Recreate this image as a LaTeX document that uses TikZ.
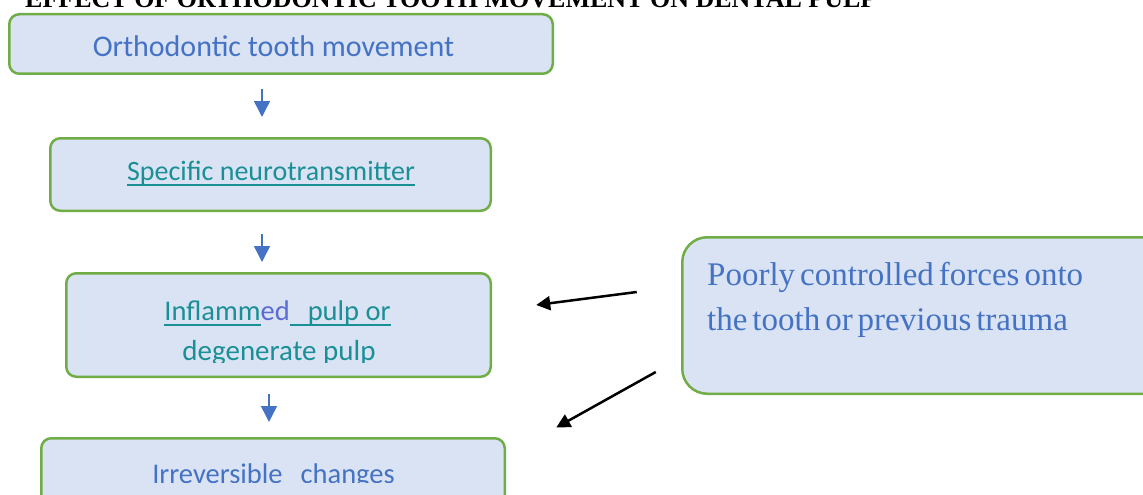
\documentclass[tikz,border=0pt]{standalone}
\usepackage{fontspec}
\setmainfont{Liberation Serif}
\newfontfamily\calfont{Carlito}
\newfontfamily\serfont[WordSpace=0.6]{Liberation Serif}
\usetikzlibrary{arrows.meta,calc}
\definecolor{boxfill}{HTML}{DAE3F3}
\definecolor{boxline}{HTML}{70AD47}
\definecolor{txtblue}{HTML}{4472C4}
\definecolor{tealtxt}{HTML}{1A8F96}
\definecolor{edblue}{HTML}{5B6BD5}
\newcommand\myul[1]{\setbox0\hbox{#1}\rlap{\rule[-6pt]{\wd0}{1.8pt}}\box0}
\begin{document}
\begin{tikzpicture}[x=1pt,y=-1pt,
  box/.style={draw=boxline,fill=boxfill,line width=2.5pt,rounded corners=10pt,inner sep=0pt},
  bigbox/.style={box,rounded corners=25pt},
  caltxt/.style={inner sep=0pt,anchor=base,font=\calfont\fontsize{#1}{#1}\selectfont},
  barrow/.style={draw=txtblue,line width=1.5pt,-{Triangle[width=16pt,length=16pt]},fill=txtblue},
  karrow/.style={draw=black,line width=2.5pt,-{Triangle[width=14pt,length=14pt]}}]
\useasboundingbox (0,0) rectangle (1143,495);
% title (cut off at top)
\node[inner sep=0pt,anchor=base west,font=\bfseries\fontsize{26}{26}\selectfont] (title) at (25,7.5) {EFFECT OF ORTHODONTIC TOOTH MOVEMENT ON DENTAL PULP};
% boxes
\node[box,minimum width=543.5pt,minimum height=59.5pt] (a) at (281,44) {};
\node[box,minimum width=440.5pt,minimum height=72.5pt] (b) at (270.5,174.5) {};
\node[box,minimum width=424.5pt,minimum height=103.5pt] (c) at (278.5,325) {};
\node[box,minimum width=463.5pt,minimum height=85.5pt] (d) at (273,481) {};
\node[bigbox,minimum width=486.5pt,minimum height=156.5pt] (p) at (925.5,315.5) {};
% texts
\node[caltxt=30,text=txtblue] (ta) at (273.5,57) {Orthodontic tooth movement};
\node[caltxt=28,text=tealtxt] (tb) at (271,180) {\myul{Specific neurotransmitter}};
\node[caltxt=28.5,text=tealtxt] (tc1) at (277.5,320) {\myul{Inflamm}{\color{edblue}ed}\myul{\hspace{18pt}pulp or}};
\begin{scope}
\clip (0,0) rectangle (1143,362);
\node[caltxt=29,text=tealtxt] (tc2) at (279,360) {degenerate pulp};
\end{scope}
\begin{scope}
\clip (0,0) rectangle (1143,482.5);
\node[caltxt=28.5,text=txtblue] (td) at (273.5,483) {Irreversible\hspace{18pt}changes};
\end{scope}
\node[inner sep=0pt,anchor=base west,text=txtblue,font=\serfont\fontsize{33}{33}\selectfont] (tp1) at (707,285) {Poorly controlled forces onto};
\node[inner sep=0pt,anchor=base west,text=txtblue,font=\serfont\fontsize{33}{33}\selectfont] (tp2) at (707,330) {the tooth or previous trauma};
% blue arrows
\draw[barrow,shorten <=14pt,shorten >=20pt] (262,0 |- a.south) -- (262,0 |- b.north);
\draw[barrow,shorten <=22pt,shorten >=10pt] (262,0 |- b.south) -- (262,0 |- c.north);
\draw[barrow,shorten <=16pt,shorten >=15pt] (269,0 |- c.south) -- (269,0 |- d.north);
% black arrows
\draw[karrow] ($(p.west)+(-44.25,-23.5)$) -- ($(c.east)+(44.25,-20)$);
\draw[karrow] ($(p.west)+(-25.25,56.5)$) -- ($(d.east)+(50.25,-53.5)$);
\end{tikzpicture}
\end{document}
